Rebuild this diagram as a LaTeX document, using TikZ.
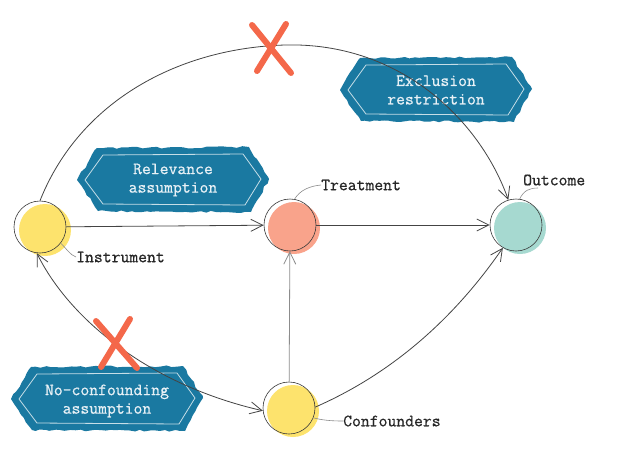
\documentclass[tikz,border=0pt]{standalone}
\usepackage{fontspec}
\newfontfamily\labelmono{Latin Modern Mono}[FakeBold=0.7]
\usetikzlibrary{arrows.meta,calc,decorations.pathmorphing}
\definecolor{boxblue}{HTML}{1A79A1}
\definecolor{linegray}{HTML}{444444}
\definecolor{lightline}{HTML}{8C8C8C}
\definecolor{yellowc}{HTML}{FDE36D}
\definecolor{salmonc}{HTML}{F9A38B}
\definecolor{tealc}{HTML}{A6D9D0}
\definecolor{crossred}{HTML}{F4684A}
\definecolor{outlinec}{HTML}{3A3A3A}
\newcommand\lbfont{\labelmono\fontsize{17.2}{18.5}\selectfont}
\begin{document}
\begin{tikzpicture}[x=1pt,y=-1pt,
  lbl/.style={font=\lbfont, text=black!85, inner sep=0pt, anchor=west},
  boxtxt/.style={font=\lbfont, text=white!90!boxblue, align=center, inner sep=0pt},
  circ/.style={circle, draw=outlinec, line width=0.6pt, minimum size=52pt, inner sep=0pt},
  barb/.tip={Straight Barb[length=12pt,width=12pt,line width=0.8pt]},
  arr/.style={draw=linegray, line width=0.8pt, -barb},
  arrtwo/.style={draw=linegray, line width=0.8pt, barb-barb},
  leader/.style={draw=lightline, line width=0.6pt},
  cross/.style={draw=crossred, line width=6pt, line cap=round},
  boxouter/.style={fill=boxblue, decorate, decoration={random steps, segment length=5pt, amplitude=1pt}},
  boxinner/.style={draw=white!75!boxblue, line width=0.8pt},
  hexbox/.pic={
    \path[boxouter] (-96,0) -- (-76,-32) -- (76,-33) -- (96,-1) -- (78,32) -- (-75,31) -- cycle;
    \draw[boxinner] (-88,0) -- (-70,-25) -- (70,-26) -- (88,-1) -- (72,25) -- (-70,24) -- cycle;
  }
]
\useasboundingbox (0,0) rectangle (635,475);
\fill[white] (0,0) rectangle (635,475);

% boxes
\pic at (173,180) {hexbox};
\node[boxtxt] (rel) at (173,180) {Relevance\\assumption};
\pic at (436,90) {hexbox};
\node[boxtxt] (excl) at (436,90) {Exclusion\\restriction};
\pic at (107,399) {hexbox};
\node[boxtxt] (noconf) at (107,401) {No-confounding\\assumption};

% circle fills
\fill[yellowc] (45,230) circle[radius=26pt];
\fill[salmonc] (294,228) circle[radius=26pt];
\fill[tealc] (520,228) circle[radius=26pt];
\fill[yellowc] (293,411) circle[radius=26pt];

% circle nodes
\node[circ] (inst) at (40,227) {};
\node[circ] (treat) at (290,225) {};
\node[circ] (outc) at (516,225) {};
\node[circ] (conf) at (289,408) {};

% labels
\node[lbl] (instl) at (76,257) {Instrument};
\node[lbl] (treatl) at (321,185) {Treatment};
\node[lbl] (outcl) at (523,180) {Outcome};
\node[lbl] (confl) at (343,421) {Confounders};

% leaders
\draw[leader] (inst.-38) .. controls (66,248) and (70,255) .. (instl.west);
\draw[leader] (treat.80) .. controls (300,190) and (310,186) .. (treatl.west);
\draw[leader] (outc.82) .. controls (524,190) and (530,188) .. (538,188);
\draw[leader] (conf.-22) .. controls (322,420) and (330,421) .. (confl.west);

% connectors
\draw[arr] (inst) -- (treat);
\draw[arr] (treat) -- (outc);
\draw[arr, draw=lightline] (conf) -- (treat);
\draw[arr] (inst.north) .. controls (80,100) and (180,48) .. (285,45)
  .. controls (400,42) and (480,120) .. (outc.107);
\draw[arr] (conf.2) .. controls (400,370) and (460,310) .. (outc.240);
\draw[arrtwo] (inst.263) .. controls (70,320) and (150,385) .. (conf.186);

% crosses
\draw[cross] (252,25) -- (291,73);
\draw[cross] (286,24) -- (257,71);
\draw[cross] (96,321) -- (137,368);
\draw[cross] (130,319) -- (101,367);
\end{tikzpicture}
\end{document}
